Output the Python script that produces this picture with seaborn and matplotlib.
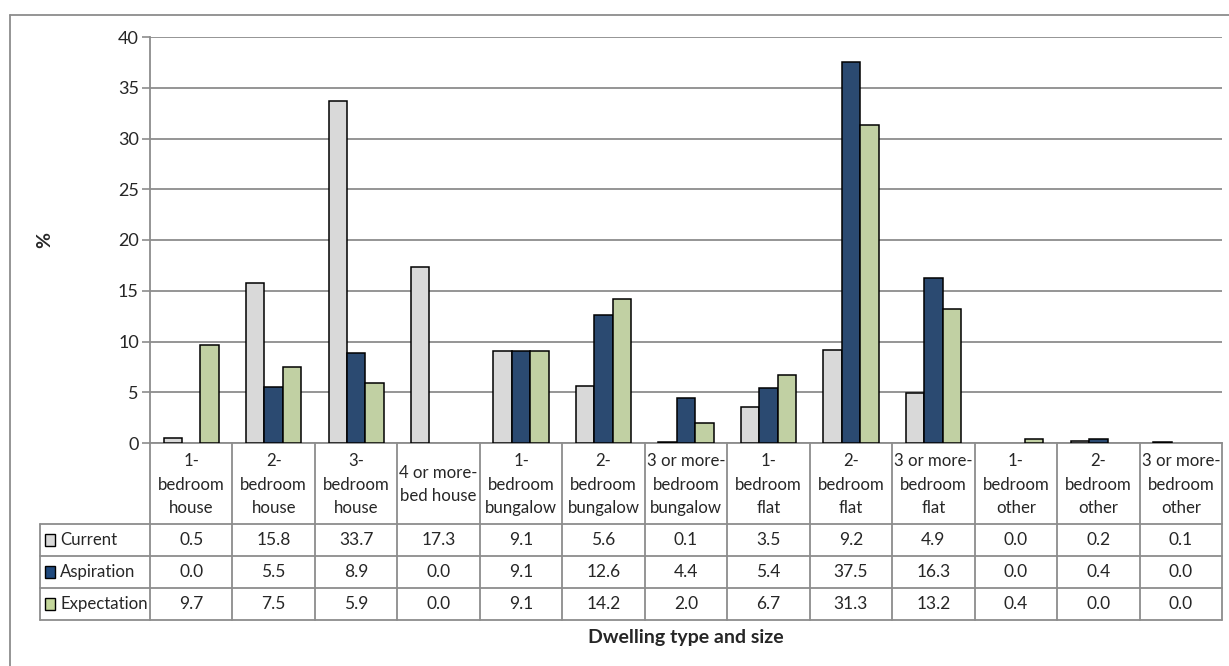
import matplotlib
matplotlib.use("Agg")
import matplotlib.pyplot as plt
from matplotlib.lines import Line2D
from matplotlib.patches import Rectangle
import matplotlib.transforms as mtransforms
import numpy as np
import pandas as pd
import seaborn as sns

# ---- data ----
categories = [
    "1-\nbedroom\nhouse", "2-\nbedroom\nhouse", "3-\nbedroom\nhouse", "4 or more-\nbed house",
    "1-\nbedroom\nbungalow", "2-\nbedroom\nbungalow", "3 or more-\nbedroom\nbungalow",
    "1-\nbedroom\nflat", "2-\nbedroom\nflat", "3 or more-\nbedroom\nflat",
    "1-\nbedroom\nother", "2-\nbedroom\nother", "3 or more-\nbedroom\nother",
]
series_names = ["Current", "Aspiration", "Expectation"]
current = [0.5, 15.8, 33.7, 17.3, 9.1, 5.6, 0.1, 3.5, 9.2, 4.9, 0.0, 0.2, 0.1]
aspiration = [0.0, 5.5, 8.9, 0.0, 9.1, 12.6, 4.4, 5.4, 37.5, 16.3, 0.0, 0.4, 0.0]
expectation = [9.7, 7.5, 5.9, 0.0, 9.1, 14.2, 2.0, 6.7, 31.3, 13.2, 0.4, 0.0, 0.0]
y_ticks = [0, 5, 10, 15, 20, 25, 30, 35, 40]
colors = ["#D9D9D9", "#1F497D", "#C4D79B"]

series_values = [current, aspiration, expectation]
df = pd.DataFrame({
    "category": np.tile(categories, 3),
    "series": np.repeat(series_names, len(categories)),
    "value": np.concatenate(series_values),
})

sns.set_theme(style="white")
plt.rcParams["font.family"] = ["Lato", "DejaVu Sans"]
text_color = "#262626"
grid_color = "#8C8C8C"
fs = 12.1

W, H = 1229, 666
fig = plt.figure(figsize=(W / 100, H / 100), dpi=100)
ax_left, ax_right, ax_top, ax_bottom = 150, 1222, 37, 443
ax = fig.add_axes([ax_left / W, 1 - ax_bottom / H,
                   (ax_right - ax_left) / W, (ax_bottom - ax_top) / H])

sns.barplot(data=df, x="category", y="value", hue="series",
            order=categories, hue_order=series_names, palette=colors,
            width=0.67, gap=0, edgecolor="black", linewidth=1.1,
            legend=False, ax=ax, zorder=3)
for p in ax.patches:
    if p.get_height() == 0:
        p.set_linewidth(0)

ax.set_ylim(0, 40)
ax.set_xlim(-0.5, len(categories) - 0.5)
ax.set_yticks(y_ticks)
ax.set_yticklabels([str(t) for t in y_ticks], fontsize=13, color=text_color)
ax.set_xticks([])
ax.set_xlabel("")
ax.set_ylabel("")
ax.yaxis.grid(True, color=grid_color, linewidth=1.3, zorder=0)
ax.set_axisbelow(True)
ax.tick_params(axis="y", which="major", length=6, width=1.2, color=grid_color,
               left=True, pad=2)
for side in ["top", "right"]:
    ax.spines[side].set_visible(False)
ax.spines["left"].set_color(grid_color)
ax.spines["left"].set_linewidth(1.3)
ax.spines["bottom"].set_color(grid_color)
ax.spines["bottom"].set_linewidth(1.3)

# ---- data table under the plot ----
axes_h = ax_bottom - ax_top
def ay(px):
    """pixel row in the figure -> axes y fraction"""
    return (ax_bottom - px) / axes_h

trans = mtransforms.blended_transform_factory(ax.transData, ax.transAxes)
trans_fig_x = mtransforms.blended_transform_factory(fig.transFigure, ax.transAxes)

header_bottom = 524
row_h = 32
table_bottom = header_bottom + 3 * row_h
legend_left = 40
line_kw = dict(color=grid_color, linewidth=1.3, clip_on=False)

# vertical separators between categories
for i in range(len(categories) + 1):
    x = i - 0.5
    ax.add_line(Line2D([x, x], [ay(ax_bottom), ay(table_bottom)], transform=trans, **line_kw))
# horizontal row lines spanning legend column and data
for k in range(4):
    yy = ay(header_bottom + k * row_h)
    ax.add_line(Line2D([legend_left / W, ax_right / W], [yy, yy], transform=trans_fig_x, **line_kw))
ax.add_line(Line2D([legend_left / W, legend_left / W], [ay(header_bottom), ay(table_bottom)],
                   transform=trans_fig_x, **line_kw))

# category header text
for i, cat in enumerate(categories):
    ax.text(i, ay((ax_bottom + header_bottom) / 2 + 1), cat, transform=trans,
            ha="center", va="center", fontsize=fs, color=text_color,
            linespacing=1.55, clip_on=False)

# value rows with legend keys
for r, (name, vals, col) in enumerate(zip(series_names, series_values, colors)):
    yc = ay(header_bottom + (r + 0.5) * row_h)
    for i, v in enumerate(vals):
        ax.text(i, yc, f"{v:.1f}", transform=trans, ha="center", va="center",
                fontsize=12.5, color=text_color, clip_on=False)
    key_w, key_h = 10 / W, 12 / axes_h
    ax.add_patch(Rectangle((45 / W, yc - key_h / 2), key_w, key_h, transform=trans_fig_x,
                           facecolor=col, edgecolor="black", linewidth=1, clip_on=False))
    ax.text(60 / W, yc, name, transform=trans_fig_x, ha="left", va="center",
            fontsize=fs, color=text_color, clip_on=False)

# axis titles
fig.text(45 / W, 1 - 240 / H, "%", rotation=90, ha="center", va="center",
         fontsize=14, fontweight="bold", color=text_color)
fig.text((ax_left + ax_right) / 2 / W, 1 - 637 / H, "Dwelling type and size",
         ha="center", va="center", fontsize=14, fontweight="bold", color=text_color)

# chart-area frame
fig.add_artist(Line2D([10 / W, 10 / W], [0, 1 - 15 / H], transform=fig.transFigure,
                      color=grid_color, linewidth=1.3))
fig.add_artist(Line2D([10 / W, 1], [1 - 15 / H, 1 - 15 / H], transform=fig.transFigure,
                      color=grid_color, linewidth=1.3))

fig.savefig("out.png", dpi=100, facecolor="white")
